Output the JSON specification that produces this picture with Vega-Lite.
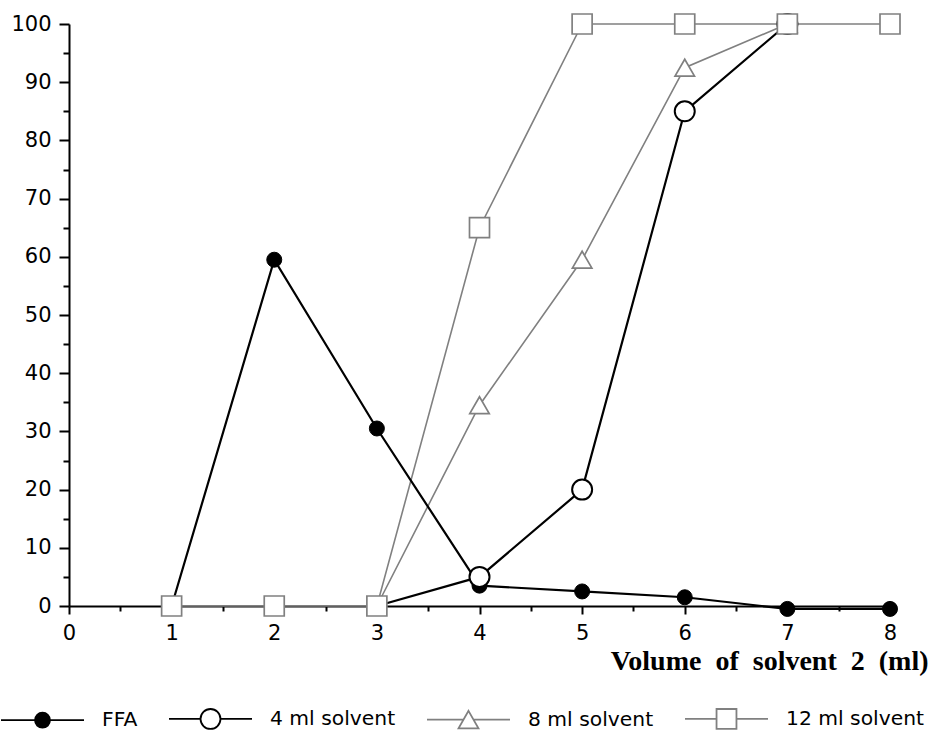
{
  "$schema": "https://vega.github.io/schema/vega-lite/v6.json",
  "width": 821,
  "height": 582,
  "autosize": {"type": "none"},
  "padding": {"left": 69, "top": 24, "right": 41, "bottom": 141},
  "background": "white",
  "config": {"view": {"stroke": null}},
  "data": {
    "values": [
      {"series": "FFA", "x": 1, "y": 0},
      {"series": "FFA", "x": 2, "y": 59.5},
      {"series": "FFA", "x": 3, "y": 30.5},
      {"series": "FFA", "x": 4, "y": 3.5},
      {"series": "FFA", "x": 5, "y": 2.5},
      {"series": "FFA", "x": 6, "y": 1.5},
      {"series": "FFA", "x": 7, "y": -0.5},
      {"series": "FFA", "x": 8, "y": -0.5},
      {"series": "4 ml solvent", "x": 3, "y": 0},
      {"series": "4 ml solvent", "x": 4, "y": 5},
      {"series": "4 ml solvent", "x": 5, "y": 20},
      {"series": "4 ml solvent", "x": 6, "y": 85},
      {"series": "4 ml solvent", "x": 7, "y": 100},
      {"series": "8 ml solvent", "x": 3, "y": 0},
      {"series": "8 ml solvent", "x": 4, "y": 34.5},
      {"series": "8 ml solvent", "x": 5, "y": 59.5},
      {"series": "8 ml solvent", "x": 6, "y": 92.5},
      {"series": "8 ml solvent", "x": 7, "y": 100},
      {"series": "12 ml solvent", "x": 1, "y": 0},
      {"series": "12 ml solvent", "x": 2, "y": 0},
      {"series": "12 ml solvent", "x": 3, "y": 0},
      {"series": "12 ml solvent", "x": 4, "y": 65},
      {"series": "12 ml solvent", "x": 5, "y": 100},
      {"series": "12 ml solvent", "x": 6, "y": 100},
      {"series": "12 ml solvent", "x": 7, "y": 100},
      {"series": "12 ml solvent", "x": 8, "y": 100}
    ]
  },
  "encoding": {
    "x": {
      "field": "x", "type": "quantitative",
      "scale": {"domain": [0, 8], "nice": false, "zero": false},
      "axis": {
        "values": [0,0.5,1,1.5,2,2.5,3,3.5,4,4.5,5,5.5,6,6.5,7,7.5,8],
        "labelExpr": "datum.value % 1 === 0 ? format(datum.value, 'd') : ''",
        "tickSize": {"condition": {"test": "datum.value % 1 !== 0", "value": 5}, "value": 8},
        "tickColor": "black", "tickWidth": 2,
        "domainColor": "black", "domainWidth": 2,
        "grid": false,
        "labelFont": "DejaVu Sans", "labelFontSize": 21, "labelColor": "black",
        "labelPadding": 8, "labelFlush": false,
        "title": "Volume\u2002of\u2002solvent\u20022\u2002(ml)",
        "titleFont": "Liberation Serif", "titleFontSize": 28, "titleFontWeight": "bold",
        "titleColor": "black",
        "titleAnchor": "end", "titleAlign": "right", "titleBaseline": "middle",
        "titleX": 859, "titleY": 55
      }
    },
    "y": {
      "field": "y", "type": "quantitative",
      "scale": {"domain": [0, 100], "nice": false},
      "axis": {
        "values": [0,5,10,15,20,25,30,35,40,45,50,55,60,65,70,75,80,85,90,95,100],
        "labelExpr": "datum.value % 10 === 0 ? format(datum.value, 'd') : ''",
        "tickSize": {"condition": {"test": "datum.value % 10 !== 0", "value": 6}, "value": 10},
        "tickColor": "black", "tickWidth": 2,
        "domainColor": "black", "domainWidth": 2,
        "grid": false,
        "labelFont": "DejaVu Sans", "labelFontSize": 21, "labelColor": "black",
        "labelPadding": 8, "labelFlush": false,
        "title": null
      }
    }
  },
  "layer": [
    {
      "transform": [{"filter": "datum.series === '8 ml solvent' || datum.series === '12 ml solvent'"}],
      "mark": {"type": "line", "stroke": "#808080", "strokeWidth": 1.6},
      "encoding": {"detail": {"field": "series", "type": "nominal"}}
    },
    {
      "transform": [{"filter": "datum.series === 'FFA' || datum.series === '4 ml solvent'"}],
      "mark": {"type": "line", "stroke": "black", "strokeWidth": 2.2},
      "encoding": {"detail": {"field": "series", "type": "nominal"}}
    },
    {
      "transform": [{"filter": "datum.series === 'FFA'"}],
      "mark": {"type": "point", "shape": "circle", "filled": true, "fill": "black", "stroke": "black", "strokeWidth": 1, "opacity": 1, "size": 225}
    },
    {
      "transform": [{"filter": "datum.series === '4 ml solvent' && datum.x > 3"}],
      "mark": {"type": "point", "shape": "circle", "filled": true, "fill": "white", "stroke": "black", "strokeWidth": 2, "opacity": 1, "size": 400}
    },
    {
      "transform": [{"filter": "datum.series === '8 ml solvent' && datum.x > 3"}],
      "mark": {"type": "point", "shape": "triangle-up", "filled": true, "fill": "white", "stroke": "#808080", "strokeWidth": 1.7, "opacity": 1, "size": 380}
    },
    {
      "transform": [{"filter": "datum.series === '12 ml solvent'"}],
      "mark": {"type": "point", "shape": "square", "filled": true, "fill": "white", "stroke": "#808080", "strokeWidth": 1.7, "opacity": 1, "size": 400}
    },
    {
      "transform": [{"filter": "datum.x > 100"}],
      "mark": {"type": "point", "filled": true, "opacity": 1, "strokeWidth": 1.8},
      "encoding": {
        "shape": {
          "field": "series", "type": "nominal",
          "scale": {
            "domain": ["FFA", "4 ml solvent", "8 ml solvent", "12 ml solvent"],
            "range": [
              "M-1,0H-0.18M0.18,0H1M0.18,0A0.18,0.18,0,1,1,-0.18,0A0.18,0.18,0,1,1,0.18,0",
              "M-1,0H-0.24M0.24,0H1M0.24,0A0.24,0.24,0,1,1,-0.24,0A0.24,0.24,0,1,1,0.24,0",
              "M-1,0H-0.125M0.125,0H1M0,-0.21L0.24,0.21L-0.24,0.21Z",
              "M-1,0H-0.24M0.24,0H1M-0.24,-0.24H0.24V0.24H-0.24Z"
            ]
          },
          "legend": {
            "orient": "none", "legendX": -69, "legendY": 652,
            "direction": "horizontal", "columns": 4, "title": null,
            "symbolSize": 6889, "labelOffset": 17, "columnPadding": 27,
            "labelFont": "DejaVu Sans", "labelFontSize": 20.3, "labelColor": "black", "labelLimit": 300,
            "symbolOpacity": 1, "symbolStrokeWidth": 1.8
          }
        },
        "fill": {
          "field": "series", "type": "nominal",
          "scale": {"domain": ["FFA", "4 ml solvent", "8 ml solvent", "12 ml solvent"], "range": ["black", "white", "white", "white"]}
        },
        "stroke": {
          "field": "series", "type": "nominal",
          "scale": {"domain": ["FFA", "4 ml solvent", "8 ml solvent", "12 ml solvent"], "range": ["black", "black", "#808080", "#808080"]}
        }
      }
    }
  ]
}
